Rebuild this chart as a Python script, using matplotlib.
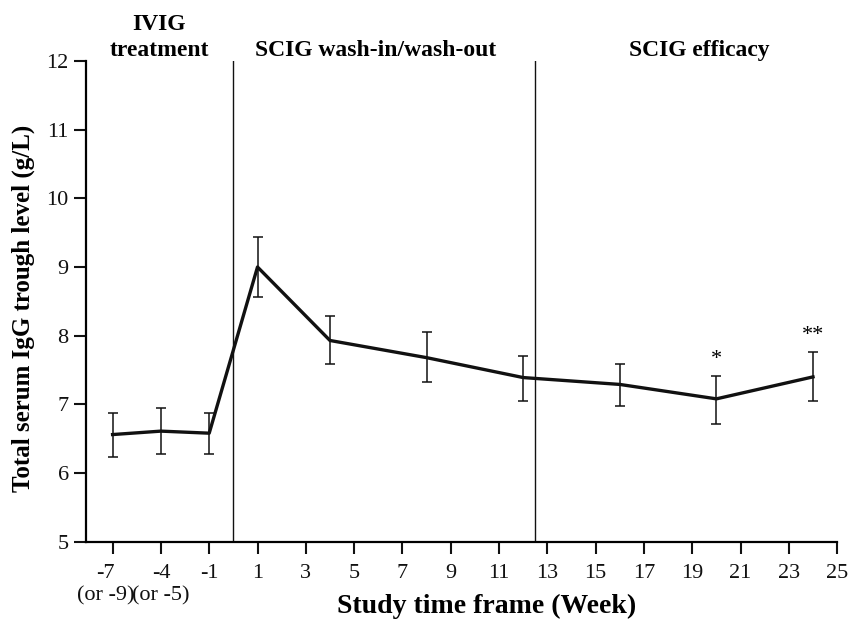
import numpy as np
import matplotlib
matplotlib.use("Agg")
import matplotlib.pyplot as plt
from matplotlib.transforms import blended_transform_factory, ScaledTranslation

# ---- data ----
weeks = [-7, -4, -1, 1, 4, 8, 12, 16, 20, 24]
igg_mean = [6.56, 6.61, 6.58, 9.00, 7.93, 7.68, 7.39, 7.29, 7.08, 7.40]
err_low = [6.23, 6.28, 6.27, 8.56, 7.59, 7.32, 7.05, 6.97, 6.72, 7.05]
err_high = [6.88, 6.94, 6.88, 9.44, 8.28, 8.05, 7.71, 7.59, 7.42, 7.76]

tick_weeks = [-7, -4, -1, 1, 3, 5, 7, 9, 11, 13, 15, 17, 19, 21, 23, 25]
tick_labels = ["-7\n(or -9)", "-4\n(or -5)", "-1", "1", "3", "5", "7", "9",
               "11", "13", "15", "17", "19", "21", "23", "25"]
y_ticks = [5, 6, 7, 8, 9, 10, 11, 12]

phase_bounds = [0, 12.5]
phase_labels = ["IVIG\ntreatment", "SCIG wash-in/wash-out", "SCIG efficacy"]
phase_label_weeks = [-4.1, 5.9, 19.3]

sig_weeks = [20, 24]
sig_marks = ["*", "**"]

# ---- compressed pre-study axis: -7, -4, -1 equally spaced like odd weeks ----
def fwd(w):
    w = np.asarray(w, dtype=float)
    return np.where(w < -1, (2 * w - 1) / 3.0, w)

def inv(p):
    p = np.asarray(p, dtype=float)
    return np.where(p < -1, (3 * p + 1) / 2.0, p)

plt.rcParams['font.family'] = ['Liberation Serif', 'DejaVu Serif']

fig = plt.figure(figsize=(8.62, 6.32), dpi=100)
ax = fig.add_axes([0.0998, 0.1429, 0.8714, 0.7606])
ax.set_xscale('function', functions=(fwd, inv))

yerr = [np.array(igg_mean) - np.array(err_low), np.array(err_high) - np.array(igg_mean)]
ax.errorbar(weeks, igg_mean, yerr=yerr, color='#111111', lw=2.4,
            elinewidth=1.1, capsize=3.5, capthick=1.1, zorder=3)

for b in phase_bounds:
    ax.axvline(b, color='#111111', lw=1.0, zorder=2)

ax.set_xlim(inv(-6.1), 25)
ax.set_ylim(5, 12)
ax.set_xticks(tick_weeks)
ax.set_xticklabels(tick_labels)
ax.set_yticks(y_ticks)
ax.xaxis.set_minor_locator(matplotlib.ticker.NullLocator())

for s in ['top', 'right']:
    ax.spines[s].set_visible(False)
for s in ['left', 'bottom']:
    ax.spines[s].set_linewidth(1.6)
ax.tick_params(axis='both', direction='out', length=8.5, width=1.5,
               labelsize=16, colors='#111111')
ax.tick_params(axis='x', pad=7.5)
ax.tick_params(axis='y', pad=4)

xlabels = ax.get_xticklabels()
for lbl in xlabels:
    lbl.set_linespacing(1.25)
xlabels[0].set_transform(xlabels[0].get_transform() +
                         ScaledTranslation(-5 / 72, 0, fig.dpi_scale_trans))

ax.set_xlabel("Study time frame (Week)", fontsize=20, fontweight='bold')
ax.xaxis.set_label_coords(0.533, -0.108)
ax.set_ylabel("Total serum IgG trough level (g/L)", fontsize=18, fontweight='bold')
ax.yaxis.set_label_coords(-0.068, 0.486)

trans = blended_transform_factory(ax.transData, ax.transAxes)
for lbl, xw in zip(phase_labels, phase_label_weeks):
    ax.text(xw, 1.0, lbl, transform=trans, ha='center', va='bottom',
            fontsize=17, fontweight='bold', linespacing=1.3, clip_on=False)

for w, m in zip(sig_weeks, sig_marks):
    i = weeks.index(w)
    ax.text(w, err_high[i] + 0.17, m, ha='center', va='baseline', fontsize=16)

fig.savefig("out.png", dpi=100)
